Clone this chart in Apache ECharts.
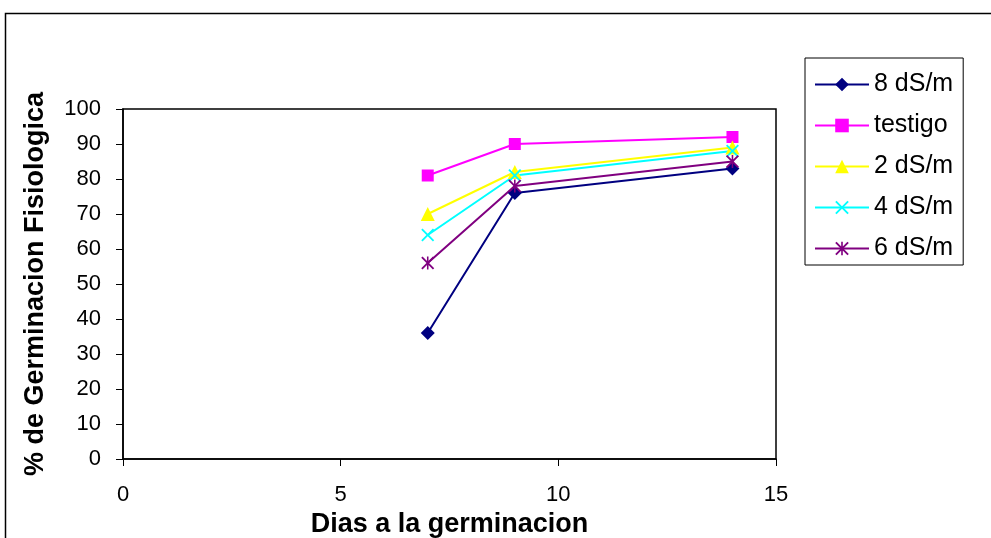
<!DOCTYPE html>
<html>
<head>
<meta charset="utf-8">
<script src="https://cdn.jsdelivr.net/npm/echarts@6/dist/echarts.min.js"></script>
<style>
  html, body { margin: 0; padding: 0; background: #fff; }
  #chart { width: 991px; height: 538px; }
</style>
</head>
<body>
<div id="chart"></div>
<script>
// Days to germination (x) and physiological germination % per salinity treatment
const dias = [7, 9, 14];
const serie8 = [36, 76, 83];
const testigo = [81, 90, 92];
const serie2 = [70, 82, 89];
const serie4 = [64, 81, 88];
const serie6 = [56, 78, 85];
const nombres = ['8 dS/m', 'testigo', '2 dS/m', '4 dS/m', '6 dS/m'];

const FONT = 'Liberation Sans, Arial, sans-serif';

// Filled marker shapes: an "x" and an asterisk
const xMark = 'path://M0,1 L1,0 L5,4 L9,0 L10,1 L6,5 L10,9 L9,10 L5,6 L1,10 L0,9 L4,5 Z';
const starMark = 'path://M0,1 L1,0 L5,4 L9,0 L10,1 L6,5 L10,9 L9,10 L5,6 L1,10 L0,9 L4,5 Z M4.4,0 L5.6,0 L5.6,10 L4.4,10 Z';

function pares(vals) { return dias.map((d, i) => [d, vals[i]]); }

function linea(name, vals, color, symbol, size) {
  return {
    name: name,
    type: 'line',
    data: pares(vals),
    symbol: symbol,
    symbolSize: size,
    showSymbol: true,
    lineStyle: { color: color, width: 2 },
    itemStyle: { color: color, borderWidth: 0 },
    emphasis: { disabled: true },
    animation: false,
    z: 3
  };
}

const chart = echarts.init(document.getElementById('chart'), null, { renderer: 'canvas' });
chart.setOption({
  backgroundColor: '#ffffff',
  animation: false,
  graphic: [
    { type: 'rect', left: 3, top: 11, shape: { width: 1100, height: 700 },
      style: { fill: 'none', stroke: '#000', lineWidth: 1.5 }, z: -1, silent: true }
  ],
  grid: { left: 123, right: 215, top: 109, bottom: 79, show: true,
          outerBoundsMode: 'none', containLabel: false,
          borderColor: '#000', borderWidth: 1.5, backgroundColor: 'transparent' },
  legend: {
    orient: 'vertical',
    left: 805, top: 58,
    width: 157,
    padding: [14, 10, 4, 9],
    itemWidth: 54, itemHeight: 17, itemGap: 16,
    borderColor: '#000', borderWidth: 1,
    backgroundColor: '#fff',
    textStyle: { fontFamily: FONT, fontSize: 25, color: '#000' },
    data: nombres
  },
  xAxis: {
    type: 'value', min: 0, max: 15, interval: 5,
    name: 'Dias a la germinacion',
    nameLocation: 'middle', nameGap: 50,
    nameTextStyle: { fontFamily: FONT, fontSize: 27, fontWeight: 'bold', color: '#000' },
    axisLine: { show: true, onZero: false, lineStyle: { color: '#000', width: 1.5 } },
    axisTick: { show: true, inside: false, length: 7, lineStyle: { color: '#000' } },
    axisLabel: { fontFamily: FONT, fontSize: 22, color: '#000', margin: 25 },
    splitLine: { show: false }
  },
  yAxis: {
    type: 'value', min: 0, max: 100, interval: 10,
    name: '% de Germinacion Fisiologica',
    nameLocation: 'middle', nameGap: 74,
    nameTextStyle: { fontFamily: FONT, fontSize: 27, fontWeight: 'bold', color: '#000' },
    axisLine: { show: true, lineStyle: { color: '#000', width: 1.5 } },
    axisTick: { show: true, inside: false, length: 7, lineStyle: { color: '#000' } },
    axisLabel: { fontFamily: FONT, fontSize: 22, color: '#000', margin: 22 },
    splitLine: { show: false }
  },
  series: [
    linea(nombres[0], serie8, '#000080', 'diamond', 14),
    linea(nombres[1], testigo, '#FF00FF', 'rect', 12),
    linea(nombres[2], serie2, '#FFFF00', 'triangle', 14),
    linea(nombres[3], serie4, '#00FFFF', xMark, 13),
    linea(nombres[4], serie6, '#800080', starMark, 13)
  ]
});
</script>
</body>
</html>
